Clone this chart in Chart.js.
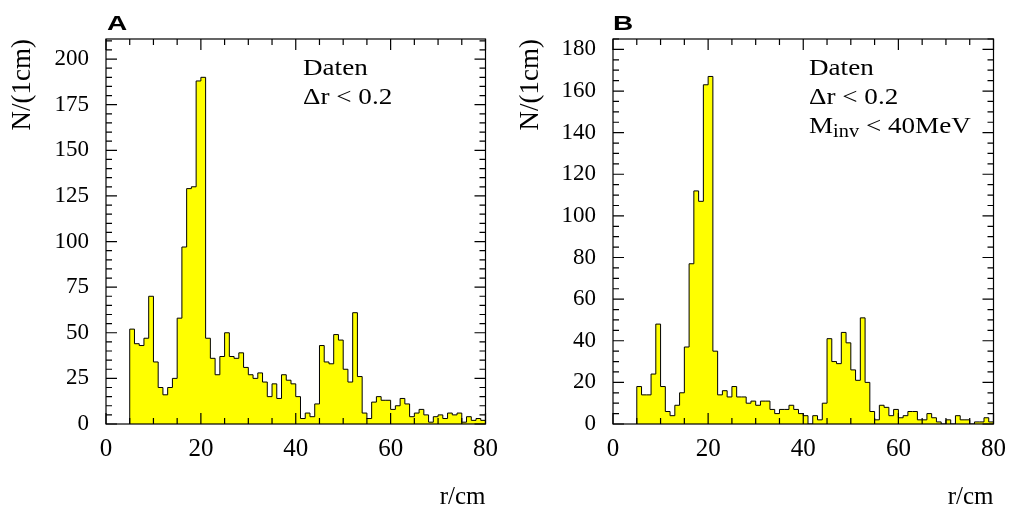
<!DOCTYPE html>
<html>
<head>
<meta charset="utf-8">
<script src="https://cdn.jsdelivr.net/npm/chart.js@4"></script>
<style>
  body { margin: 0; background: #fff; width: 1016px; height: 515px; overflow: hidden; position: relative; }
  .pane { position: absolute; top: 0; width: 508px; height: 515px; }
  .tag { position: absolute; font-family: "Liberation Sans", Arial, Helvetica, sans-serif; font-weight: bold; font-size: 20px; line-height: 20px; transform: scaleX(1.4); transform-origin: left top; }
  .note { position: absolute; font-family: "Liberation Serif", "Times New Roman", Times, serif; font-size: 24px; line-height: 29px; transform: scaleX(1.13); transform-origin: left top; white-space: nowrap; color: #000; }
  .note sub { font-size: 18px; position: relative; top: -2px; }
</style>
</head>
<body>
<div class="pane" style="left:0"><canvas id="histA" width="508" height="515"></canvas></div>
<div class="pane" style="left:508px"><canvas id="histB" width="508" height="515"></canvas></div>
<div class="tag" style="left:107px; top:13px">A</div>
<div class="tag" style="left:613px; top:13px">B</div>
<div class="note" style="left:303px; top:53px">Daten<br>&Delta;r &lt; 0.2</div>
<div class="note" style="left:809px; top:53px">Daten<br>&Delta;r &lt; 0.2<br>M<sub>inv</sub> &lt; 40MeV</div>
<script>
// histogram: 1 cm bins, first filled bin starts at r = 5 cm
const firstBin = 5;
const lastEdge = 80;

// A: Daten, dr < 0.2
const countsA = [
    52, 44, 43, 47, 70, 34, 20, 16, 20, 25,
    58, 97, 129, 130, 188, 190, 47, 36, 27, 37,
    50, 37, 36, 39, 31, 27, 25, 28, 23, 15,
    22, 14, 27, 24, 22, 15, 3, 6, 4, 11,
    43, 34, 33, 49, 46, 30, 23, 61, 26, 6,
    3, 12, 15, 13, 13, 8, 10, 14, 11, 4,
    6, 8, 5, 1, 4, 5, 3, 6, 5, 6,
    1, 4, 2, 3, 2
];

// B: Daten, dr < 0.2, M_inv < 40 MeV
const countsB = [
    18, 14, 14, 24, 48, 18, 6, 4, 9, 15,
    37, 77, 112, 107, 163, 167, 35, 14, 16, 13,
    18, 13, 13, 10, 11, 9, 11, 11, 7, 5,
    7, 7, 9, 7, 5, 4, 0, 4, 2, 10,
    41, 30, 29, 44, 39, 26, 21, 51, 20, 6,
    2, 9, 8, 4, 7, 3, 4, 6, 6, 2,
    2, 5, 3, 1, 0, 2, 0, 4, 2, 2,
    0, 1, 1, 3, 1
];

const xTicks = [0, 20, 40, 60, 80];
const yTicksA = [0, 25, 50, 75, 100, 125, 150, 175, 200];
const yTicksB = [0, 20, 40, 60, 80, 100, 120, 140, 160, 180];

const serif = '"Liberation Serif", "Times New Roman", Times, serif';

// bin edges -> step points
function toSteps(counts) {
    const pts = [{ x: firstBin, y: 0 }];
    counts.forEach((c, i) => pts.push({ x: firstBin + i, y: c }));
    pts.push({ x: lastEdge, y: counts[counts.length - 1] });
    pts.push({ x: lastEdge, y: 0 });
    return pts;
}

// frame with inward ticks on all four sides
const framePlugin = {
    id: 'frame',
    afterDatasetsDraw(chart, args, opts) {
        const { ctx, chartArea: a, scales: { x, y } } = chart;
        ctx.save();
        ctx.strokeStyle = '#000';
        ctx.lineWidth = 1.2;
        ctx.strokeRect(a.left, a.top, a.right - a.left, a.bottom - a.top);
        ctx.beginPath();
        for (let v = 0; v <= 80; v += 5) {
            const px = x.getPixelForValue(v);
            const len = xTicks.includes(v) ? 11 : 6;
            ctx.moveTo(px, a.bottom); ctx.lineTo(px, a.bottom - len);
            ctx.moveTo(px, a.top); ctx.lineTo(px, a.top + len);
        }
        for (let v = 0; v <= y.max; v += 5) {
            const py = y.getPixelForValue(v);
            const len = opts.major.includes(v) ? 11 : 6;
            ctx.moveTo(a.left, py); ctx.lineTo(a.left + len, py);
            ctx.moveTo(a.right, py); ctx.lineTo(a.right - len, py);
        }
        ctx.stroke();
        ctx.restore();
    }
};

function makeHist(id, counts, yMax, yTicks, leftWidth, rightPad) {
    return new Chart(document.getElementById(id), {
        type: 'line',
        data: {
            datasets: [{
                data: toSteps(counts),
                stepped: 'before',
                fill: 'origin',
                backgroundColor: '#ffff00',
                borderColor: '#000',
                borderWidth: 1,
                pointRadius: 0
            }]
        },
        options: {
            responsive: false,
            animation: false,
            layout: { padding: { top: 39, right: rightPad, bottom: 0, left: 0 } },
            plugins: { legend: { display: false }, tooltip: { enabled: false }, frame: { major: yTicks } },
            scales: {
                x: {
                    type: 'linear', min: 0, max: lastEdge,
                    afterBuildTicks: s => { s.ticks = xTicks.map(v => ({ value: v })); },
                    afterFit: s => { s.height = 91; },
                    grid: { display: false, drawTicks: false },
                    border: { display: false },
                    ticks: { font: { family: serif, size: 25 }, color: '#000', padding: 10, maxRotation: 0, autoSkip: false },
                    title: { display: true, text: 'r/cm', align: 'end', color: '#000', font: { family: serif, size: 25 }, padding: { top: 0, bottom: 3 } }
                },
                y: {
                    min: 0, max: yMax,
                    afterBuildTicks: s => { s.ticks = yTicks.map(v => ({ value: v })); },
                    afterFit: s => { s.width = leftWidth; },
                    grid: { display: false, drawTicks: false },
                    border: { display: false },
                    ticks: { font: { family: serif, size: 23 }, color: '#000', padding: 17, autoSkip: false },
                    title: { display: true, text: 'N/(1cm)', align: 'end', color: '#000', font: { family: serif, size: 27 }, padding: { top: 7, bottom: 0 } }
                }
            }
        },
        plugins: [framePlugin]
    });
}

document.addEventListener('DOMContentLoaded', function() {
    makeHist('histA', countsA, 211, yTicksA, 106, 17);
    makeHist('histB', countsB, 185, yTicksB, 105, 18);
});
</script>
</body>
</html>
